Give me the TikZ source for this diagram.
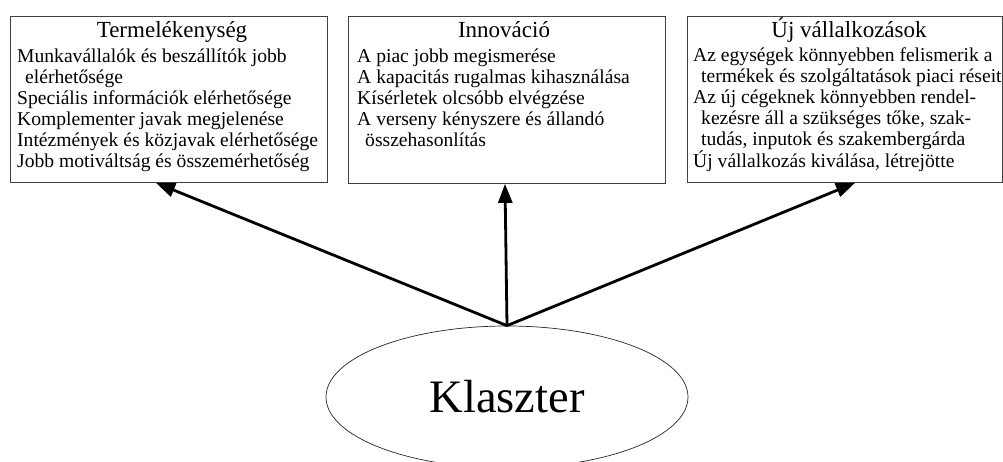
\documentclass[tikz,border=0pt]{standalone}
\usepackage{fontspec}
\setmainfont{Liberation Serif}
\usetikzlibrary{shapes.geometric,arrows.meta}

\tikzset{
  panel/.style={draw=black!75, line width=0.9pt, anchor=north west, inner sep=0pt},
  heading/.style={anchor=base, inner sep=0pt, font=\fontsize{23}{27}\selectfont},
  % multi-line node: its base anchor sits on the baseline of the last line
  items/.style={anchor=base west, inner sep=0pt, align=left,
                font=\fontsize{19.6}{21}\selectfont},
  hub/.style={ellipse, draw=black!85, line width=0.7pt, inner sep=0pt,
              minimum width=362pt, minimum height=142pt},
  link/.style={line width=2.8pt, -{Triangle[length=19pt,width=14pt]}},
}
\newcommand{\cont}{\hspace*{8pt}}

\begin{document}
\begin{tikzpicture}[x=1pt, y=-1pt]
  \useasboundingbox (0,0) rectangle (1003,462);

  % three effect panels
  \node[panel, minimum width=317pt, minimum height=166pt] (b1) at (10,16) {};
  \node[panel, minimum width=317pt, minimum height=167pt] (b2) at (348,16) {};
  \node[panel, minimum width=315pt, minimum height=166pt] (b3) at (687,16) {};

  \node[heading] (h1) at (172,38) {Termelékenység};
  \node[heading] (h2) at (504,38) {Innováció};
  \node[heading] (h3) at (849,38) {Új vállalkozások};

  \node[items] (l1) at (17,168) {Munkavállalók és beszállítók jobb\\
    \cont elérhetősége\\
    Speciális információk elérhetősége\\
    Komplementer javak megjelenése\\
    Intézmények és közjavak elérhetősége\\
    Jobb motiváltság és összemérhetőség};

  \node[items] (l2) at (357,147) {A piac jobb megismerése\\
    A kapacitás rugalmas kihasználása\\
    Kísérletek olcsóbb elvégzése\\
    A verseny kényszere és állandó\\
    \cont összehasonlítás};

  \node[items] (l3) at (693,168) {Az egységek könnyebben felismerik a\\
    \cont termékek és szolgáltatások piaci réseit\\
    Az új cégeknek könnyebben rendel-\\
    \cont kezésre áll a szükséges tőke, szak-\\
    \cont tudás, inputok és szakembergárda\\
    Új vállalkozás kiválása, létrejötte};

  % the cluster
  \node[hub, font=\fontsize{46.5}{50}\selectfont] (k) at (507,397) {Klaszter};

  % arrow targets on the panel edges
  \coordinate (t1) at (156,0);
  \coordinate (t2) at (505,0);
  \coordinate (t3) at (855,0);

  \draw[link] (k.north) -- (b1.south -| t1);
  \draw[link] (k.north) -- (b2.south -| t2);
  \draw[link] (k.north) -- (b3.south -| t3);
\end{tikzpicture}
\end{document}
